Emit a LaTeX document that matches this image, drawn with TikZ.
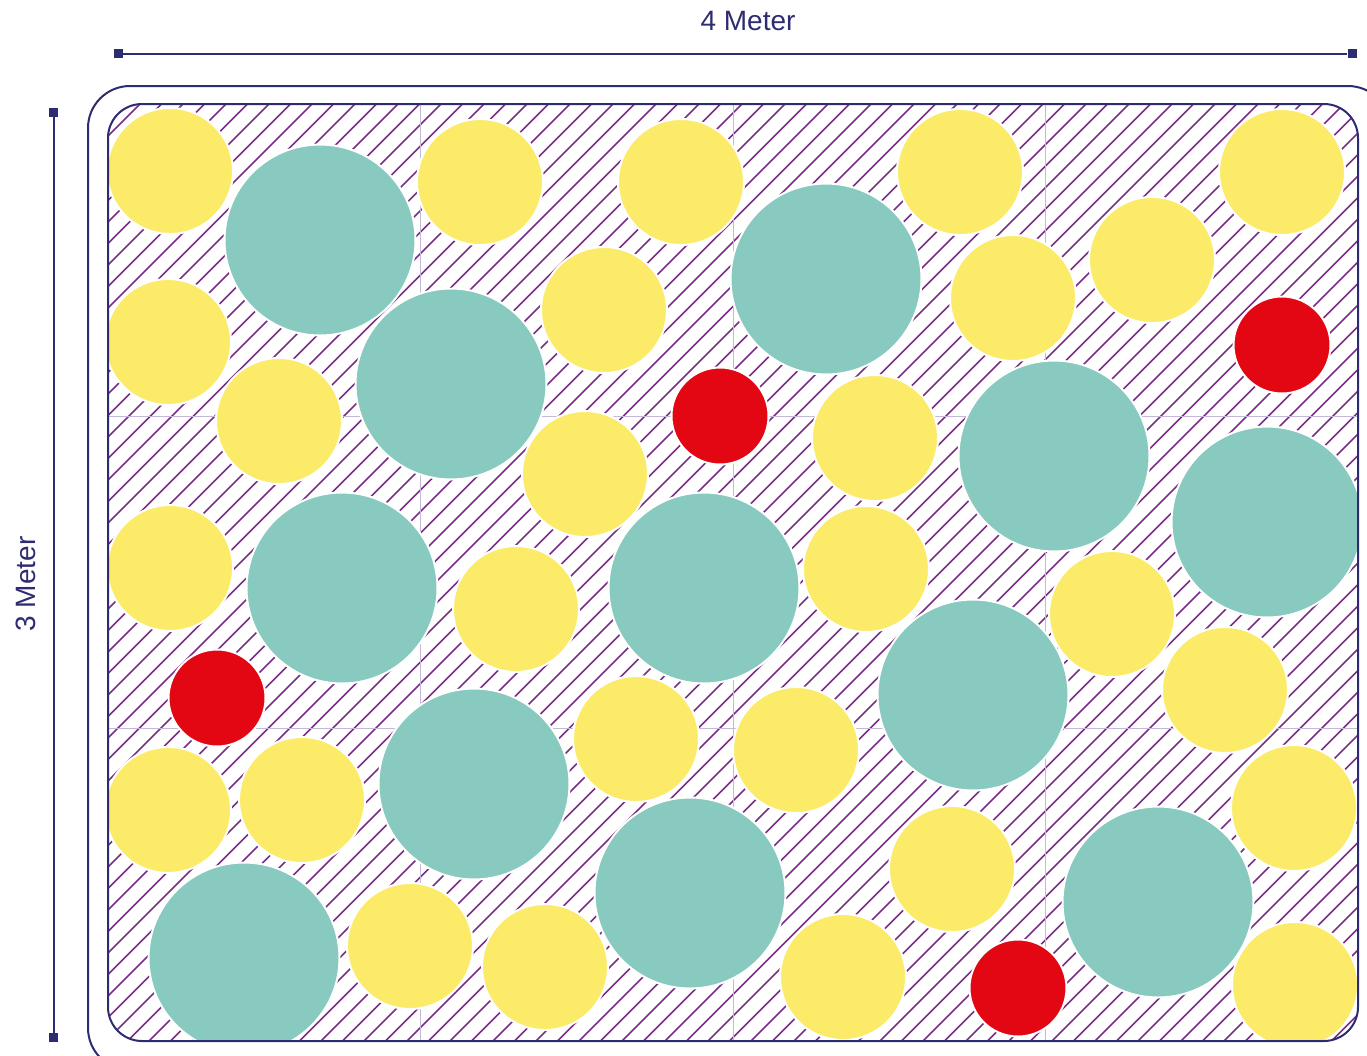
\documentclass[tikz,border=0pt]{standalone}
\usepackage{fontspec}
\setsansfont{Liberation Sans}
\usetikzlibrary{arrows.meta, positioning}
\definecolor{navy}{HTML}{2E2C70}
\definecolor{hatchpurple}{HTML}{7A2E86}
\definecolor{gridlav}{HTML}{C4B8DA}
\definecolor{sunyellow}{HTML}{FBEB69}
\definecolor{seateal}{HTML}{88CABF}
\definecolor{signalred}{HTML}{E30613}

\begin{document}
\begin{tikzpicture}[
    x=0.5pt, y=-0.5pt,
    endsq/.style={fill=navy, inner sep=0pt, minimum size=4.5pt},
    dimline/.style={draw=navy, line width=1pt},
    dimlabel/.style={text=navy, font=\sffamily\fontsize{14}{16}\selectfont, inner sep=0pt},
    frame/.style={draw=navy, line width=1pt},
    hatch/.style={draw=hatchpurple, line width=0.85pt},
    gridline/.style={draw=gridlav, line width=0.5pt},
    disc/.style={draw=white, line width=1pt}
]
\useasboundingbox (0,0) rectangle (1367,1056);

% Dimension lines
\node[endsq] (topL) at (118.5,53.5) {};
\node[endsq] (topR) at (1352,53.5) {};
\node[endsq] (leftT) at (53.5,112.5) {};
\node[endsq] (leftB) at (53.5,1037.5) {};
\draw[dimline] (topL) -- (topR);
\draw[dimline] (leftT) -- (leftB);
\node[dimlabel] (width) at (748,21) {4 Meter};
\node[dimlabel, rotate=90] (height) at (26,584) {3 Meter};

% Outer frame
\draw[frame, rounded corners=21pt] (88,86) rectangle (1390,1070);

% Field with hatching, grid and circles
\begin{scope}
  \clip[rounded corners=17pt] (108,104) rectangle (1358,1041);
  \foreach \c in {201,222.5,...,2420}
    \draw[hatch] (\c,0) -- ({\c-1200},1200);
  \foreach \gx in {420.5,733,1045.5}
    \draw[gridline] (\gx,104) -- (\gx,1041);
  \foreach \gy in {416.3,728.7}
    \draw[gridline] (108,\gy) -- (1358,\gy);
  % yellow circles
  \foreach \cx/\cy in {170/171, 480/182, 681/182, 960/172, 1282/172, 1152/260,
      1013/298, 604/310, 168/342, 279/421, 875/438, 585/474, 170/568,
      866/569, 516/609, 1112/614, 1225/690, 636/739, 796/750, 302/800,
      168/810, 1294/808, 952/869, 410/946, 545/967, 843/977, 1295/985}
    \filldraw[disc, fill=sunyellow] (\cx,\cy) circle[radius=63];
  % teal circles
  \foreach \cx/\cy in {320/240, 826/279, 451/384, 1054/456, 1267/522,
      342/588, 704/588, 973/695, 474/784, 690/893, 1158/902, 244/958}
    \filldraw[disc, fill=seateal] (\cx,\cy) circle[radius=95.5];
  % red circles
  \foreach \cx/\cy in {720/416, 1282/345, 217/698, 1018/988}
    \filldraw[disc, fill=signalred] (\cx,\cy) circle[radius=48.5];
\end{scope}

% Inner frame
\draw[frame, rounded corners=17pt] (108,104) rectangle (1358,1041);

\end{tikzpicture}
\end{document}
